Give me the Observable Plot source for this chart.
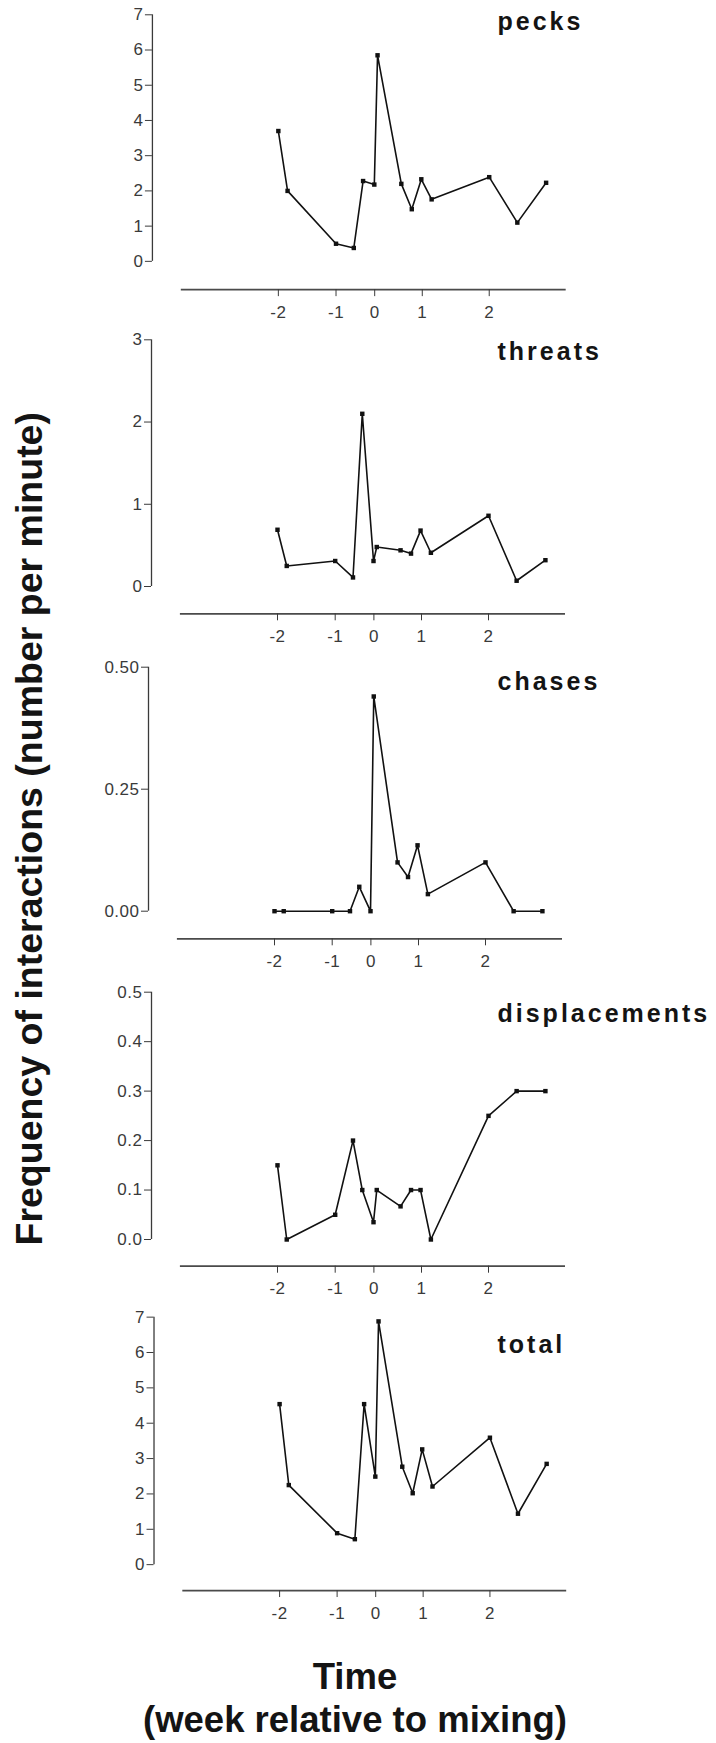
<!DOCTYPE html>
<html>
<head>
<meta charset="utf-8">
<script src="https://cdn.jsdelivr.net/npm/d3@7"></script>
<script src="https://cdn.jsdelivr.net/npm/@observablehq/plot@0.6"></script>
<style>
  html, body { margin: 0; padding: 0; background: #fff; }
  #fig { position: relative; width: 716px; height: 1743px; overflow: hidden; background: #fff; }
  .panel { position: absolute; }
  .ptitle { position: absolute; font-family: "Liberation Sans", Arial, sans-serif; font-weight: bold;
            font-size: 25px; line-height: 25px; letter-spacing: 3px; color: #141414; white-space: nowrap; }
  .big { position: absolute; font-family: "Liberation Sans", Arial, sans-serif; font-weight: bold;
         color: #141414; white-space: nowrap; text-align: center; }
</style>
</head>
<body>
<div id="fig"></div>
<script>
// ---- data ----
const weeks = [-2.0, -1.84, -1.0, -0.54, -0.30, -0.01, 0.06, 0.56, 0.78, 0.98, 1.14, 2.0, 2.42, 2.85];
const pecks = [3.7, 2.0, 0.5, 0.38, 2.28, 2.18, 5.85, 2.2, 1.48, 2.33, 1.76, 2.39, 1.1, 2.23];
const threats = [0.69, 0.25, 0.31, 0.11, 2.1, 0.31, 0.48, 0.44, 0.4, 0.68, 0.41, 0.86, 0.07, 0.32];
const chases = [0, 0, 0, 0, 0.05, 0, 0.44, 0.10, 0.07, 0.135, 0.035, 0.10, 0, 0];
const displacements = [0.15, 0.0, 0.05, 0.2, 0.1, 0.035, 0.1, 0.067, 0.1, 0.1, 0.0, 0.25, 0.3, 0.3];
const total = [4.54, 2.25, 0.89, 0.72, 4.54, 2.49, 6.88, 2.77, 2.02, 3.26, 2.21, 3.59, 1.44, 2.85];

const seriesNames = ["pecks", "threats", "chases", "displacements", "total"];
const seriesValues = [pecks, threats, chases, displacements, total];

const xTicks = [-2, -1, 0, 1, 2];
const xTickLabels = ["-2", "-1", "0", "1", "2"];

const yTicksPecks = [0, 1, 2, 3, 4, 5, 6, 7];
const yLabelsPecks = ["0", "1", "2", "3", "4", "5", "6", "7"];
const yTicksThreats = [0, 1, 2, 3];
const yLabelsThreats = ["0", "1", "2", "3"];
const yTicksChases = [0, 0.25, 0.5];
const yLabelsChases = ["0.00", "0.25", "0.50"];
const yTicksDispl = [0, 0.1, 0.2, 0.3, 0.4, 0.5];
const yLabelsDispl = ["0.0", "0.1", "0.2", "0.3", "0.4", "0.5"];
const yTicksTotal = [0, 1, 2, 3, 4, 5, 6, 7];
const yLabelsTotal = ["0", "1", "2", "3", "4", "5", "6", "7"];

const yTickSets = [yTicksPecks, yTicksThreats, yTicksChases, yTicksDispl, yTicksTotal];
const yLabelSets = [yLabelsPecks, yLabelsThreats, yLabelsChases, yLabelsDispl, yLabelsTotal];

const yTitle = "Frequency of interactions (number per minute)";
const xTitle1 = "Time";
const xTitle2 = "(week relative to mixing)";

// ---- layout (pixels) ----
// piecewise time axis of the original figure
const xDomain = [-4.18, -2, -1, 0, 1, 2, 3.15];
const xRange = [152, 278, 335.7, 374.4, 422, 489, 566];
const xAxisStart = -3.68;
const layout = [
  {top: 14.3, zero: 261, axis: 289.3, dx: 0.4, titleBase: 30},
  {top: 339.3, zero: 586, axis: 613.3, dx: -0.6, titleBase: 360},
  {top: 666.7, zero: 910.7, axis: 938.3, dx: -4.5, titleBase: 690},
  {top: 991.7, zero: 1239, axis: 1265.7, dx: -1.5, titleBase: 1022},
  {top: 1316.7, zero: 1565, axis: 1591, dx: 2.3, titleBase: 1353}
];

const fig = document.getElementById("fig");

seriesNames.forEach((name, i) => {
  const L = layout[i];
  const ticks = yTickSets[i];
  const labels = yLabelSets[i];
  const ymax = ticks[ticks.length - 1];
  const pxPerUnit = (L.zero - L.top) / ymax;
  const ymin = -(L.axis - L.zero) / pxPerUnit;
  const svgTop = Math.floor(L.top - 16);
  const svgH = Math.ceil(L.axis + 40) - svgTop;
  const marginTop = L.top - svgTop;
  const marginBottom = svgH - (L.axis - svgTop);
  const data = weeks.map((w, k) => ({week: w, value: seriesValues[i][k]}));

  const chart = Plot.plot({
    width: 716,
    height: svgH,
    marginTop,
    marginBottom,
    marginLeft: xRange[0],
    marginRight: 716 - xRange[xRange.length - 1],
    style: {fontFamily: "'Liberation Sans', Arial, sans-serif", fontSize: "17px", color: "#3a3a3a", background: "transparent", letterSpacing: "0.5px"},
    x: {type: "linear", domain: xDomain, range: xRange},
    y: {type: "linear", domain: [ymin, ymax]},
    marks: [
      Plot.ruleX([xDomain[0]], {y1: 0, y2: ymax, stroke: "#3a3a3a", strokeWidth: 1.3}),
      Plot.ruleY([ymin], {x1: xAxisStart, x2: xDomain[xDomain.length - 1], stroke: "#4a4a4a", strokeWidth: 1.8}),
      Plot.axisY({ticks, tickFormat: (d) => labels[ticks.indexOf(d)], tickSize: 7, tickPadding: 2, label: null, stroke: "#3a3a3a"}),
      Plot.axisX({ticks: xTicks, tickFormat: (d) => xTickLabels[xTicks.indexOf(d)], tickSize: 7, tickPadding: 9, label: null, stroke: "#3a3a3a"}),
      Plot.line(data, {x: "week", y: "value", stroke: "#111", strokeWidth: 1.6}),
      Plot.dot(data, {x: "week", y: "value", symbol: "square", r: 2.5, fill: "#111", stroke: "none"})
    ]
  });
  const wrap = document.createElement("div");
  wrap.className = "panel";
  wrap.style.left = L.dx + "px";
  wrap.style.top = svgTop + "px";
  wrap.appendChild(chart);
  fig.appendChild(wrap);

  const t = document.createElement("div");
  t.className = "ptitle";
  t.textContent = name;
  t.style.left = "497.5px";
  t.style.top = (L.titleBase - 21.2) + "px";
  fig.appendChild(t);
});

// y title (rotated)
const yt = document.createElement("div");
yt.className = "big";
yt.textContent = yTitle;
yt.style.fontSize = "37.5px";
yt.style.lineHeight = "37.5px";
yt.style.width = "900px";
yt.style.left = (30 - 450) + "px";
yt.style.top = (828.5 - 18.75) + "px";
yt.style.transform = "rotate(-90deg)";
yt.style.transformOrigin = "50% 50%";
fig.appendChild(yt);

// x title
[[xTitle1, 1690], [xTitle2, 1733]].forEach(([txt, base]) => {
  const d = document.createElement("div");
  d.className = "big";
  d.textContent = txt;
  d.style.fontSize = "36.5px";
  d.style.lineHeight = "36.5px";
  d.style.left = "0px";
  d.style.width = "710px";
  d.style.top = (base - 30.9) + "px";
  fig.appendChild(d);
});
</script>
</body>
</html>
